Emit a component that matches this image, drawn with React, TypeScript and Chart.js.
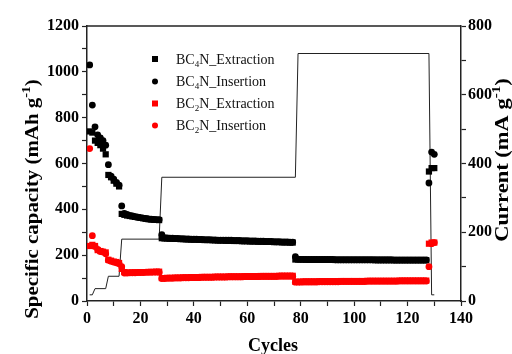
import React, { useEffect, useRef } from "react";
import { Chart, registerables } from "chart.js";

Chart.register(...registerables);

// ---------------- data ----------------
const cycles: number[] = [
  1, 2, 3, 4, 5, 6, 7, 8, 9, 10, 11, 12, 13, 14, 15, 16, 17, 18, 19, 20,
  21, 22, 23, 24, 25, 26, 27, 28, 29, 30, 31, 32, 33, 34, 35, 36, 37, 38, 39, 40,
  41, 42, 43, 44, 45, 46, 47, 48, 49, 50, 51, 52, 53, 54, 55, 56, 57, 58, 59, 60,
  61, 62, 63, 64, 65, 66, 67, 68, 69, 70, 71, 72, 73, 74, 75, 76, 77, 78, 79, 80,
  81, 82, 83, 84, 85, 86, 87, 88, 89, 90, 91, 92, 93, 94, 95, 96, 97, 98, 99, 100,
  101, 102, 103, 104, 105, 106, 107, 108, 109, 110, 111, 112, 113, 114, 115, 116, 117, 118, 119, 120,
  121, 122, 123, 124, 125, 126, 127, 128, 129, 130,
];

const bc4nExtraction: number[] = [
  740, 735, 700, 690, 680, 665, 640, 550, 540, 525, 512, 500,
  380, 376, 373, 371, 369, 367, 365, 363, 361, 359, 357, 356, 355, 354, 353,
  274, 273, 273, 272, 272, 271, 271, 270, 270, 269, 269, 268, 268, 268, 267, 267, 266, 266, 266, 265,
  265, 264, 264, 264, 263, 263, 263, 262, 262, 262, 261, 261, 261, 260, 260, 260, 259, 259, 259, 258,
  258, 258, 257, 257, 257, 256, 256, 256, 255, 255,
  181, 181, 181, 181, 180, 180, 180, 180, 180, 180, 180, 180, 180, 180, 180, 179, 179, 179, 179, 179,
  179, 179, 179, 179, 179, 179, 179, 179, 179, 179, 178, 178, 178, 178, 178, 178, 178, 178, 178, 178,
  178, 178, 178, 178, 178, 178, 178, 178, 178, 178,
  565, 580, 580,
];

const bc4nInsertion: number[] = [
  1030, 855, 760, 725, 712, 700, 680, 595, 545, 532, 518, 505,
  415, 382, 378, 374, 371, 368, 366, 364, 362, 360, 358, 357, 356, 355, 355,
  290, 276, 275, 274, 274, 273, 273, 272, 272, 271, 271, 270, 270, 270, 269, 269, 268, 268, 268, 267,
  267, 266, 266, 266, 265, 265, 265, 264, 264, 264, 263, 263, 263, 262, 262, 262, 261, 261, 261, 260,
  260, 260, 259, 259, 259, 258, 258, 258, 257, 257,
  193, 183, 182, 182, 182, 181, 181, 181, 181, 181, 181, 181, 181, 181, 181, 180, 180, 180, 180, 180,
  180, 180, 180, 180, 180, 180, 180, 180, 180, 180, 180, 180, 180, 180, 180, 180, 180, 179, 179, 179,
  179, 179, 179, 179, 179, 179, 179, 179, 179, 179,
  515, 650, 640,
];

const bc2nExtraction: number[] = [
  240, 245, 240, 222, 218, 215, 212, 180, 176, 172, 170, 166,
  140, 126, 124, 124, 125, 125, 125, 126, 126, 126, 127, 127, 127, 128, 128,
  100, 100, 101, 101, 101, 102, 102, 102, 103, 103, 103, 104, 104, 104, 104, 105, 105, 105, 105, 105,
  106, 106, 106, 106, 106, 107, 107, 107, 107, 107, 107, 108, 108, 108, 108, 108, 108, 109, 109, 109,
  109, 109, 109, 109, 110, 110, 110, 110, 110, 110,
  84, 84, 84, 85, 85, 85, 85, 85, 85, 86, 86, 86, 86, 86, 86, 86, 86, 87, 87, 87,
  87, 87, 87, 87, 87, 87, 87, 88, 88, 88, 88, 88, 88, 88, 88, 88, 88, 88, 88, 89,
  89, 89, 89, 89, 89, 89, 89, 89, 89, 89,
  250, 255, 255,
];

const bc2nInsertion: number[] = [
  665, 285, 238, 225, 216, 214, 206, 178, 174, 170, 167, 163,
  150, 122, 122, 123, 123, 123, 124, 124, 124, 125, 125, 125, 126, 126, 126,
  98, 98, 99, 99, 99, 100, 100, 100, 101, 101, 101, 102, 102, 102, 102, 103, 103, 103, 103, 103,
  104, 104, 104, 104, 104, 105, 105, 105, 105, 105, 105, 106, 106, 106, 106, 106, 106, 107, 107, 107,
  107, 107, 107, 107, 108, 108, 108, 108, 108, 108,
  82, 82, 82, 83, 83, 83, 83, 83, 83, 84, 84, 84, 84, 84, 84, 84, 84, 85, 85, 85,
  85, 85, 85, 85, 85, 85, 85, 86, 86, 86, 86, 86, 86, 86, 86, 86, 86, 86, 86, 87,
  87, 87, 87, 87, 87, 87, 87, 87, 87, 87,
  150, 250, 255,
];

// current profile (step points)
const currentCycles: number[] = [1, 2, 3, 7, 8, 12, 13, 27, 28, 78, 79, 128, 129, 130];
const currentValues: number[] = [18, 18, 36, 36, 72, 72, 180, 180, 360, 360, 720, 720, 18, 18];

const legendLabels: [string, string, string][] = [
  ["BC", "4", "N_Extraction"],
  ["BC", "4", "N_Insertion"],
  ["BC", "2", "N_Extraction"],
  ["BC", "2", "N_Insertion"],
];
const legendColors: string[] = ["#000000", "#000000", "#ff0000", "#ff0000"];
const legendShapes: string[] = ["rect", "circle", "rect", "circle"];

const leftTitle = ["Specific capacity (mAh g", "-1", ")"];
const rightTitle = ["Current (mA g", "-1", ")"];
const xTitle = "Cycles";

// ---------------- helpers ----------------
const SERIF = "'Liberation Serif', 'Times New Roman', serif";

function pts(vals: number[]) {
  return cycles.map((c, i) => ({ x: c, y: vals[i] }));
}

type Run = { text: string; font: string; dy: number };

function drawRuns(ctx: CanvasRenderingContext2D, runs: Run[], cx: number, y: number, align: "center" | "left") {
  let total = 0;
  for (const r of runs) {
    ctx.font = r.font;
    total += ctx.measureText(r.text).width;
  }
  let x = align === "center" ? cx - total / 2 : cx;
  ctx.textAlign = "left";
  ctx.textBaseline = "alphabetic";
  for (const r of runs) {
    ctx.font = r.font;
    ctx.fillText(r.text, x, y + r.dy);
    x += ctx.measureText(r.text).width;
  }
}

const textPlugin = {
  id: "customText",
  afterDraw(chart: any) {
    const ctx: CanvasRenderingContext2D = chart.ctx;
    const area = chart.chartArea;
    ctx.save();
    // frame (top)
    ctx.strokeStyle = "#222";
    ctx.lineWidth = 1.5;
    ctx.beginPath();
    ctx.moveTo(area.left, area.top);
    ctx.lineTo(area.right, area.top);
    ctx.stroke();
    ctx.fillStyle = "#000";

    // left title
    ctx.save();
    ctx.translate(38, 199);
    ctx.rotate(-Math.PI / 2);
    ctx.scale(1.16, 1);
    drawRuns(
      ctx,
      [
        { text: leftTitle[0], font: `bold 18px ${SERIF}`, dy: 0 },
        { text: leftTitle[1], font: `bold 12px ${SERIF}`, dy: -8 },
        { text: leftTitle[2], font: `bold 18px ${SERIF}`, dy: 0 },
      ],
      0,
      0,
      "center"
    );
    ctx.restore();

    // right title
    ctx.save();
    ctx.translate(508, 160);
    ctx.rotate(-Math.PI / 2);
    ctx.scale(1.25, 1);
    drawRuns(
      ctx,
      [
        { text: rightTitle[0], font: `bold 18px ${SERIF}`, dy: 0 },
        { text: rightTitle[1], font: `bold 12px ${SERIF}`, dy: -8 },
        { text: rightTitle[2], font: `bold 18px ${SERIF}`, dy: 0 },
      ],
      0,
      0,
      "center"
    );
    ctx.restore();

    // x title
    drawRuns(ctx, [{ text: xTitle, font: `bold 18px ${SERIF}`, dy: 0 }], 273, 351, "center");

    // legend
    const rows = [59, 81.5, 103.5, 125.5];
    for (let i = 0; i < 4; i++) {
      const y = rows[i];
      ctx.fillStyle = legendColors[i];
      if (legendShapes[i] === "rect") {
        ctx.fillRect(152, y - 3, 6, 6);
      } else {
        ctx.beginPath();
        ctx.arc(155, y, 3, 0, Math.PI * 2);
        ctx.fill();
      }
      ctx.fillStyle = "#111";
      const [a, b, c] = legendLabels[i];
      drawRuns(
        ctx,
        [
          { text: a, font: `14px ${SERIF}`, dy: 0 },
          { text: b, font: `9px ${SERIF}`, dy: 3 },
          { text: c, font: `14px ${SERIF}`, dy: 0 },
        ],
        176,
        y + 4.5,
        "left"
      );
    }
    ctx.restore();
  },
};

export default function App() {
  const ref = useRef<HTMLCanvasElement | null>(null);

  useEffect(() => {
    if (!ref.current) return;
    const tickFont = { family: SERIF, size: 16, weight: "bold" as const };
    const gridCommon = {
      display: true,
      drawOnChartArea: false,
      drawTicks: true,
      tickLength: 5,
      tickColor: "#222",
      tickWidth: 1.2,
    };
    const chart = new Chart(ref.current, {
      type: "scatter",
      data: {
        datasets: [
          {
            label: "BC2N_Insertion",
            data: pts(bc2nInsertion),
            yAxisID: "y",
            pointStyle: "circle",
            pointRadius: 3.4,
            backgroundColor: "#ff0000",
            borderColor: "#ff0000",
            borderWidth: 0,
            showLine: false,
          },
          {
            label: "BC2N_Extraction",
            data: pts(bc2nExtraction),
            yAxisID: "y",
            pointStyle: "rect",
            pointRadius: 4.4,
            backgroundColor: "#ff0000",
            borderColor: "#ff0000",
            borderWidth: 0,
            showLine: false,
          },
          {
            label: "BC4N_Insertion",
            data: pts(bc4nInsertion),
            yAxisID: "y",
            pointStyle: "circle",
            pointRadius: 3.4,
            backgroundColor: "#000000",
            borderColor: "#000000",
            borderWidth: 0,
            showLine: false,
          },
          {
            label: "BC4N_Extraction",
            data: pts(bc4nExtraction),
            yAxisID: "y",
            pointStyle: "rect",
            pointRadius: 4.4,
            backgroundColor: "#000000",
            borderColor: "#000000",
            borderWidth: 0,
            showLine: false,
          },
          {
            label: "Current",
            data: currentCycles.map((c, i) => ({ x: c, y: currentValues[i] })),
            yAxisID: "y2",
            showLine: true,
            pointRadius: 0,
            borderColor: "#222",
            borderWidth: 1,
            backgroundColor: "#222",
          },
        ],
      },
      plugins: [textPlugin],
      options: {
        responsive: false,
        animation: false,
        events: [],
        layout: { padding: { top: 26, left: 0, right: 0, bottom: 0 } },
        plugins: { legend: { display: false }, tooltip: { enabled: false } },
        scales: {
          x: {
            type: "linear",
            min: 0,
            max: 140,
            position: "bottom",
            border: { color: "#222", width: 1.5 },
            grid: gridCommon,
            ticks: {
              stepSize: 10,
              autoSkip: false,
              maxRotation: 0,
              padding: 3,
              color: "#000",
              font: tickFont,
              callback: (v: any) => (Number(v) % 20 === 0 ? String(v) : ""),
            },
            afterFit: (s: any) => {
              s.height = 53;
            },
          },
          y: {
            type: "linear",
            min: 0,
            max: 1200,
            position: "left",
            border: { color: "#222", width: 1.5 },
            grid: gridCommon,
            ticks: {
              stepSize: 100,
              autoSkip: false,
              padding: 3,
              color: "#000",
              font: tickFont,
              callback: (v: any) => (Number(v) % 200 === 0 ? String(v) : ""),
            },
            afterFit: (s: any) => {
              s.width = 87;
            },
          },
          y2: {
            type: "linear",
            min: 0,
            max: 800,
            position: "right",
            border: { color: "#222", width: 1.5 },
            grid: gridCommon,
            ticks: {
              stepSize: 100,
              autoSkip: false,
              padding: 2,
              color: "#000",
              font: tickFont,
              callback: (v: any) => (Number(v) % 200 === 0 ? String(v) : ""),
            },
            afterFit: (s: any) => {
              s.width = 51;
            },
          },
        },
      },
    });
    return () => chart.destroy();
  }, []);

  return (
    <div style={{ position: "fixed", left: 0, top: 0, width: 512, height: 354, background: "#ffffff" }}>
      <canvas ref={ref} width={512} height={354} style={{ display: "block", width: 512, height: 354 }} />
    </div>
  );
}
